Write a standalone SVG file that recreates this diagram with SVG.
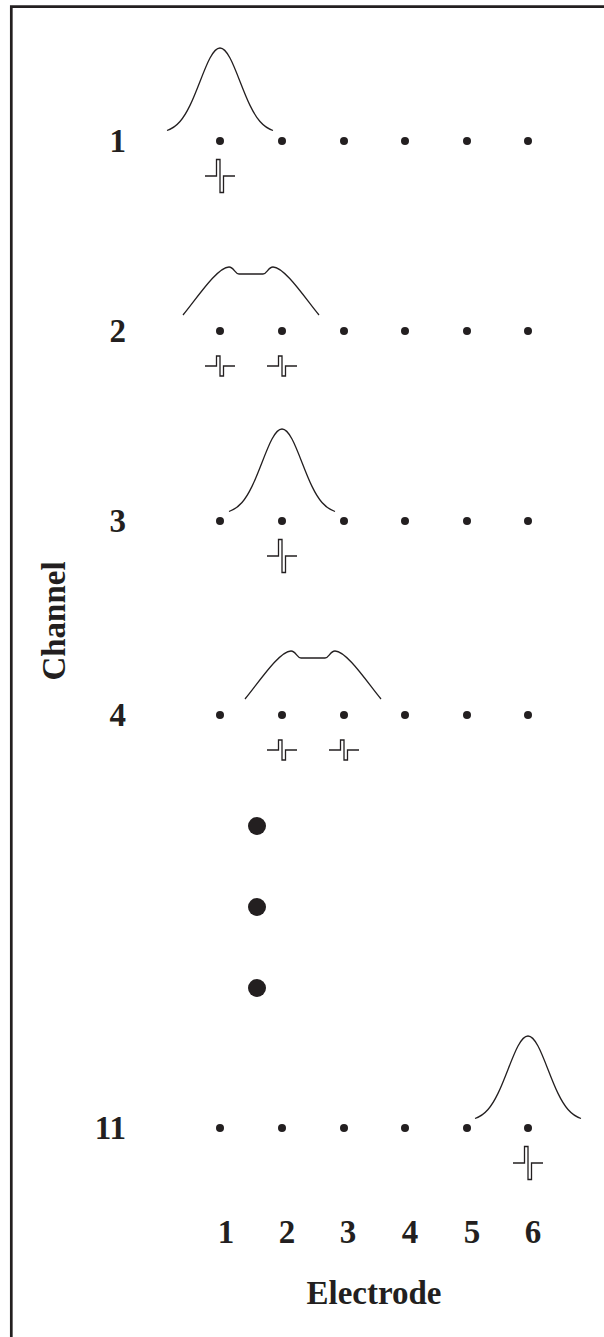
<svg xmlns="http://www.w3.org/2000/svg" xmlns:xlink="http://www.w3.org/1999/xlink" width="604" height="1337" viewBox="0 0 604 1337">
<style>
.lbl{font-family:"Liberation Serif","Times New Roman",serif;font-weight:bold;font-size:33px;fill:#231f20}
.curve{fill:none;stroke:#231f20;stroke-width:1.3}
.spk{fill:none;stroke:#231f20;stroke-width:1.3}
.dot{fill:#231f20}
</style>
<defs>
<path id="gauss" class="curve" d="M-53,82.5 C-48.67,81 -44.33,78.48 -40,73.5 C-36.67,69.67 -33.33,64.3 -30,57.4 C-26.67,50.5 -23.33,42.04 -20,33.45 C-16.67,24.86 -13.33,16.24 -10,9.99 C-6.67,3.74 -3.33,0 0,0 C3.33,0 6.67,3.74 10,9.99 C13.33,16.24 16.67,24.86 20,33.45 C23.33,42.04 26.67,50.5 30,57.4 C33.33,64.3 36.67,69.67 40,73.5 C44.33,78.48 48.67,81 53,82.5"/>
<path id="dbl" class="curve" d="M-68,-16 C-56,-30 -34,-64 -22,-64 C-17,-64 -16,-57 -12,-57 L12,-57 C16,-57 17,-64 22,-64 C34,-64 56,-30 68,-16"/>
<path id="spikeL" class="spk" d="M-15,0 H-3.5 V-16.5 H0 V16.5 H3.5 V0 H15"/>
<path id="spikeS" class="spk" d="M-15,0 H-3.5 V-10 H0 V10 H3.5 V0 H15"/>
<g id="row" class="dot">
<circle cx="220" cy="0" r="4"/><circle cx="282" cy="0" r="4"/><circle cx="344" cy="0" r="4"/><circle cx="405" cy="0" r="4"/><circle cx="467" cy="0" r="4"/><circle cx="528" cy="0" r="4"/>
</g>
</defs>

<g id="frame">
<path d="M11.3,1337 V6.7 H604" fill="none" stroke="#231f20" stroke-width="2.7"/>
</g>

<g id="axis-channel">
<text class="lbl" text-anchor="middle" transform="translate(65,621) rotate(-90)">Channel</text>
</g>

<g id="channel-1">
<text class="lbl" x="126" y="152" text-anchor="end">1</text>
<use xlink:href="#row" y="141"/>
<use xlink:href="#gauss" x="220" y="48"/>
<use xlink:href="#spikeL" x="220" y="176"/>
</g>

<g id="channel-2">
<text class="lbl" x="126" y="342" text-anchor="end">2</text>
<use xlink:href="#row" y="331"/>
<use xlink:href="#dbl" x="251" y="331"/>
<use xlink:href="#spikeS" x="220" y="366"/>
<use xlink:href="#spikeS" x="282" y="366"/>
</g>

<g id="channel-3">
<text class="lbl" x="126" y="532" text-anchor="end">3</text>
<use xlink:href="#row" y="521"/>
<use xlink:href="#gauss" x="282" y="429"/>
<use xlink:href="#spikeL" x="282" y="556"/>
</g>

<g id="channel-4">
<text class="lbl" x="126" y="726" text-anchor="end">4</text>
<use xlink:href="#row" y="715"/>
<use xlink:href="#dbl" x="313" y="715"/>
<use xlink:href="#spikeS" x="282" y="750"/>
<use xlink:href="#spikeS" x="344" y="750"/>
</g>

<g id="ellipsis" class="dot">
<circle cx="257" cy="826" r="9"/>
<circle cx="257" cy="907" r="9"/>
<circle cx="257" cy="988" r="9"/>
</g>

<g id="channel-11">
<text class="lbl" x="126" y="1139" text-anchor="end">11</text>
<use xlink:href="#row" y="1128"/>
<use xlink:href="#gauss" x="528" y="1036"/>
<use xlink:href="#spikeL" x="528" y="1163"/>
</g>

<g id="axis-electrode">
<text class="lbl" x="226" y="1243" text-anchor="middle">1</text>
<text class="lbl" x="287" y="1243" text-anchor="middle">2</text>
<text class="lbl" x="348" y="1243" text-anchor="middle">3</text>
<text class="lbl" x="410" y="1243" text-anchor="middle">4</text>
<text class="lbl" x="472" y="1243" text-anchor="middle">5</text>
<text class="lbl" x="533" y="1243" text-anchor="middle">6</text>
<text class="lbl" x="374" y="1304" text-anchor="middle">Electrode</text>
</g>
</svg>
